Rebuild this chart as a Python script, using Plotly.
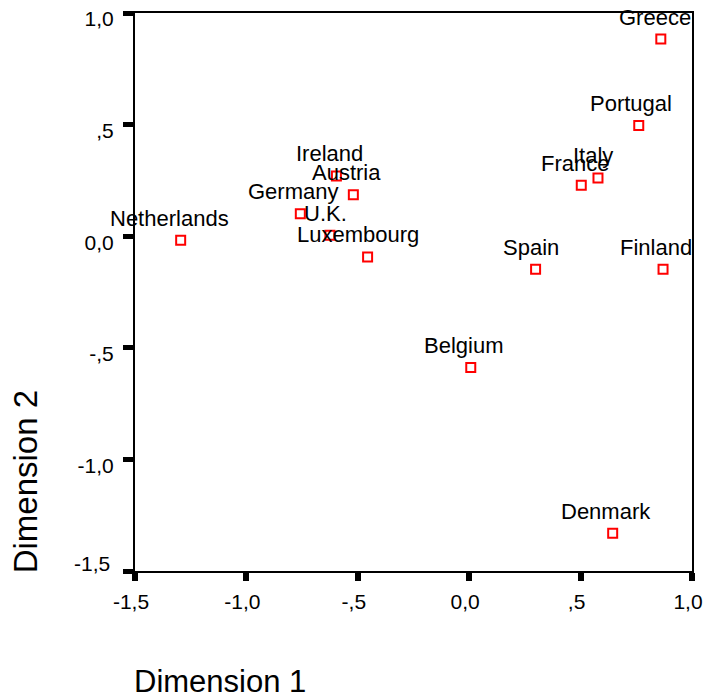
import plotly.graph_objects as go

# Data
countries = ["Greece", "Portugal", "Italy", "France", "Spain", "Finland", "Belgium",
             "Denmark", "Netherlands", "Germany", "Ireland", "Austria", "U.K.", "Luxembourg"]
dim1 = [0.860, 0.761, 0.578, 0.503, 0.298, 0.870, 0.007,
        0.644, -1.295, -0.758, -0.596, -0.520, -0.625, -0.456]
dim2 = [0.883, 0.496, 0.261, 0.228, -0.148, -0.148, -0.588,
        -1.331, -0.018, 0.101, 0.270, 0.186, 0.004, -0.093]

tick_vals = [-1.5, -1.0, -0.5, 0.0, 0.5, 1.0]
tick_text = ["-1,5", "-1,0", "-,5", "0,0", ",5", "1,0"]

FONT = "Liberation Sans, Arial, sans-serif"

fig = go.Figure()
fig.add_trace(go.Scatter(
    x=dim1, y=dim2, mode="markers",
    marker=dict(symbol="square-open", size=9, color="#ff0000",
                line=dict(width=2, color="#ff0000")),
    hoverinfo="text", text=countries, showlegend=False,
))

annotations = []
for name, xv, yv in zip(countries, dim1, dim2):
    annotations.append(dict(
        x=xv, y=yv, xref="x", yref="y", text=name, showarrow=False,
        xanchor="center", yanchor="middle", yshift=22, xshift=-len(name),
        font=dict(family=FONT, size=22, color="black"),
    ))

# lowest y tick label sits slightly above its tick (avoids the x-axis label)
y_tick_text = [t if v != tick_vals[0] else "" for v, t in zip(tick_vals, tick_text)]
annotations.append(dict(
    x=-0.041, y=tick_vals[0], xref="paper", yref="y", text=tick_text[0],
    showarrow=False, xanchor="right", yanchor="middle", yshift=8,
    font=dict(family=FONT, size=21, color="black"),
))

annotations.append(dict(
    x=-0.006, y=-0.1987, xref="paper", yref="paper", text="Dimension 1",
    showarrow=False, xanchor="left", yanchor="middle",
    font=dict(family=FONT, size=31, color="black"),
))
annotations.append(dict(
    x=-0.195, y=-0.008, xref="paper", yref="paper", text="Dimension 2",
    showarrow=False, xanchor="center", yanchor="bottom", textangle=-90,
    font=dict(family=FONT, size=33, color="black"),
))

axis_common = dict(
    range=[-1.5, 1.0], tickvals=tick_vals,
    showgrid=False, zeroline=False, showline=True, linecolor="black",
    linewidth=2, mirror=True, ticks="outside", tickcolor="black",
    automargin=False, ticklabeloverflow="allow",
    tickfont=dict(family=FONT, size=21, color="black"),
)

fig.update_layout(
    template="none",
    width=708, height=698,
    margin=dict(l=135, r=16, t=13, b=127),
    paper_bgcolor="white", plot_bgcolor="white",
    xaxis=dict(**axis_common, ticktext=tick_text, ticklen=8, tickwidth=6,
               ticklabelshift=-4, ticklabelstandoff=3),
    yaxis=dict(**axis_common, ticktext=y_tick_text, ticklen=10, tickwidth=5,
               ticklabelshift=6, ticklabelstandoff=5),
    annotations=annotations,
)

fig.write_html("out.html")
